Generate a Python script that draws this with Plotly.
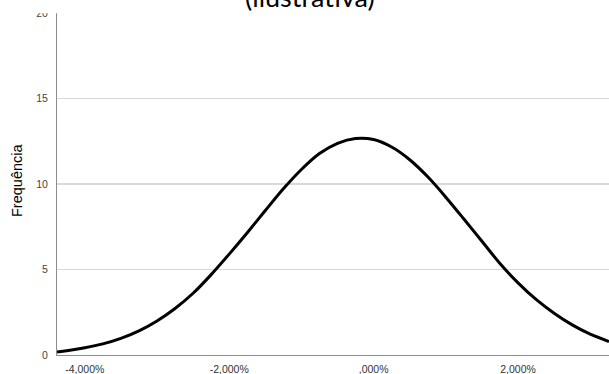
import plotly.graph_objects as go

# Data (percent vs frequency)
x_pct = [-4.385, -4.0, -3.75, -3.5, -3.25, -3.0, -2.75, -2.5, -2.25, -2.0, -1.75, -1.5,
         -1.25, -1.0, -0.75, -0.5, -0.25, 0.0, 0.25, 0.5, 0.75, 1.0, 1.25, 1.5,
         1.75, 2.0, 2.25, 2.5, 2.75, 3.0, 3.26]
freq = [0.17, 0.43, 0.65, 0.97, 1.41, 1.99, 2.72, 3.61, 4.70, 5.90, 7.15, 8.45,
        9.72, 10.85, 11.78, 12.38, 12.66, 12.60, 12.16, 11.42, 10.42, 9.23, 7.95, 6.65,
        5.35, 4.22, 3.25, 2.44, 1.76, 1.22, 0.79]

x_tickvals = [-4, -2, 0, 2]
x_ticktext = ["-4,000%", "-2,000%", ",000%", "2,000%"]
y_tickvals = [0, 5, 10, 15, 20]
y_ticktext = ["0", "5", "10", "15", "20"]
title_text = "(ilustrativa)"
y_title = "Frequência"

fig = go.Figure()
fig.add_trace(go.Scatter(
    x=x_pct, y=freq, mode="lines",
    line=dict(color="black", width=3, shape="spline", smoothing=0.8),
    hoverinfo="skip", showlegend=False,
))

W, H = 609, 374
ml, mr, mt, mb = 57, 0, 13, 19
plot_w = W - ml - mr
plot_h = H - mt - mb

fig.update_layout(
    width=W, height=H,
    margin=dict(l=ml, r=mr, t=mt, b=mb, pad=0),
    paper_bgcolor="white", plot_bgcolor="white",
    showlegend=False,
    font=dict(family="Liberation Sans, Arial, sans-serif", color="#333333"),
)

fig.update_xaxes(
    range=[-4.385, 3.26],
    tickvals=x_tickvals, ticktext=x_ticktext,
    tickfont=dict(size=10.5, color="#333333"),
    showgrid=False, zeroline=False,
    showline=True, linecolor="#8c8c8c", linewidth=1,
    ticks="", ticklabelstandoff=4, automargin=False,
)
fig.update_yaxes(
    range=[0, 20],
    tickvals=y_tickvals, ticktext=y_ticktext,
    tickfont=dict(size=10.5, color="#444444"),
    showgrid=True, gridcolor="#d9d9d9", gridwidth=1.2,
    zeroline=False,
    showline=True, linecolor="#8c8c8c", linewidth=1,
    ticks="", ticklabelstandoff=6, automargin=False,
)

# white band covering the top (title box of the original)
fig.add_shape(type="rect", xref="paper", yref="paper",
              x0=-0.2, x1=1.05, y0=0.999, y1=1.1,
              fillcolor="white", line=dict(width=0), layer="above")

fig.add_annotation(
    text=title_text, xref="paper", yref="paper",
    x=(310 - ml) / plot_w, y=1.048,
    xanchor="center", yanchor="middle", showarrow=False,
    font=dict(family="Lato, sans-serif", size=27, color="black"),
)
fig.add_annotation(
    text=y_title, xref="paper", yref="paper",
    x=(17 - ml) / plot_w, y=((H - mb) - 181) / plot_h,
    xanchor="center", yanchor="middle", textangle=-90, showarrow=False,
    font=dict(family="Liberation Sans, Arial, sans-serif", size=14.5, color="black"),
)

fig.write_html(
    "out.html",
    config={"displayModeBar": False, "staticPlot": True},
    post_script="document.body.style.margin='0';document.body.style.overflow='hidden';",
)
